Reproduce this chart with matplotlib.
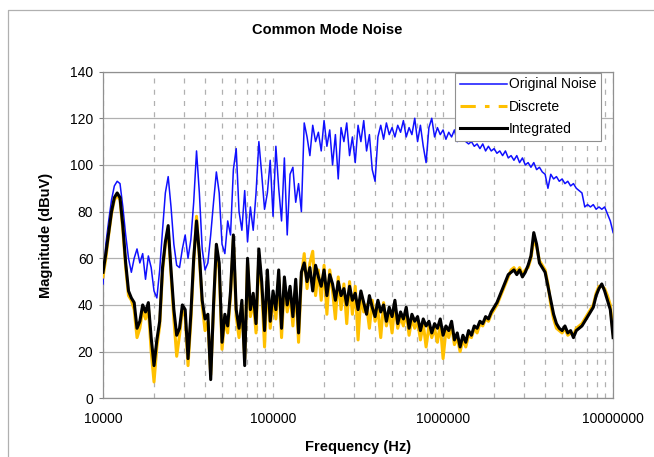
import numpy as np
import matplotlib
matplotlib.use("Agg")
import matplotlib.pyplot as plt
from matplotlib.lines import Line2D
from matplotlib.ticker import LogLocator, NullFormatter

plt.rcParams['font.family'] = ['Liberation Sans', 'DejaVu Sans']

# sweep: 60 points per decade, 10 kHz .. 10 MHz
freq_hz = np.logspace(4, 7, 181)

original_noise = [
    49, 66, 76, 85, 91, 93, 92, 82, 70, 60,
    54, 60, 64, 58, 62, 51, 61, 56, 46, 43,
    55, 72, 88, 95, 82, 66, 57, 56, 64, 70,
    60, 68, 84, 106, 88, 64, 55, 58, 70, 84,
    97, 88, 66, 62, 76, 70, 98, 107, 80, 72,
    89, 67, 82, 72, 88, 110, 96, 81, 88, 102,
    78, 108, 90, 76, 103, 70, 96, 99, 84, 92,
    80, 118, 112, 104, 117, 110, 114, 106, 119, 108,
    115, 100, 113, 94, 116, 110, 118, 104, 112, 101,
    117, 110, 119, 106, 113, 98, 93, 112, 117, 111,
    118, 113, 116, 112, 117, 114, 119, 112, 116, 113,
    120, 110, 117, 108, 101, 116, 120, 112, 116, 113,
    115, 111, 114, 112, 115, 110, 113, 111, 110, 109,
    110, 108, 109, 107, 109, 106, 108, 106, 107, 105,
    106, 104, 106, 103, 104, 102, 104, 101, 103, 100,
    101, 99, 101, 98, 99, 97, 96, 90, 96, 94,
    95, 93, 94, 92, 93, 91, 92, 90, 89, 88,
    82, 83, 82, 83, 81, 82, 81, 82, 79, 76,
    71,
]

discrete = [
    52, 60, 70, 79, 85, 87, 85, 72, 56, 44,
    42, 38, 26, 30, 38, 34, 39, 20, 7, 22,
    31, 54, 66, 72, 53, 34, 18, 27, 38, 35,
    14, 33, 58, 78, 60, 40, 29, 33, 10, 38,
    64, 55, 21, 34, 28, 44, 68, 35, 26, 40,
    17, 58, 35, 42, 28, 61, 47, 22, 52, 30,
    43, 34, 52, 26, 49, 37, 45, 31, 48, 24,
    52, 62, 47, 58, 63, 44, 55, 42, 57, 36,
    55, 46, 34, 52, 38, 49, 32, 50, 36, 48,
    25, 44, 37, 40, 30, 42, 33, 38, 26, 41,
    31, 37, 28, 40, 30, 35, 31, 37, 27, 34,
    30, 33, 25, 32, 22, 31, 26, 30, 24, 32,
    17, 29, 26, 31, 23, 26, 20, 25, 22, 27,
    26, 30, 28, 32, 31, 34, 33, 36, 38, 40,
    43, 46, 49, 52, 55, 56, 54, 56, 53, 55,
    56, 60, 68, 65, 59, 57, 55, 49, 40, 34,
    30, 29, 28, 30, 27, 28, 27, 30, 31, 32,
    34, 36, 38, 40, 45, 48, 48, 47, 44, 40,
    28,
]

integrated = [
    54, 62, 71, 80, 86, 88, 86, 74, 58, 46,
    43, 41, 30, 33, 40, 37, 41, 26, 14, 25,
    33, 56, 67, 74, 55, 38, 27, 30, 40, 38,
    17, 36, 60, 76, 62, 42, 34, 36, 8, 40,
    66, 58, 24, 36, 31, 46, 70, 38, 30, 42,
    14, 60, 38, 45, 32, 64, 50, 29, 55, 33,
    46, 38, 55, 30, 52, 40, 48, 35, 51, 28,
    54, 58, 50, 56, 46, 57, 52, 48, 55, 44,
    53, 49, 42, 50, 44, 47, 40, 48, 42, 45,
    38, 46, 41, 36, 44, 39, 35, 42, 37, 40,
    33, 39, 35, 42, 32, 37, 34, 39, 30, 36,
    33, 35, 29, 34, 31, 33, 28, 32, 30, 34,
    27, 31, 29, 33, 25, 28, 22, 27, 24, 29,
    27, 31, 30, 33, 32, 35, 34, 37, 39, 41,
    44, 47, 50, 53, 54, 55, 53, 55, 52, 54,
    57, 61, 71, 66, 58, 56, 54, 48, 42, 36,
    32, 30, 29, 31, 28, 29, 26, 29, 30, 31,
    33, 35, 37, 39, 44, 47, 49, 46, 42, 38,
    26,
]

blue = '#1010ff'
gold = '#ffc000'
grid_grey = '#b0b0b0'

fig = plt.figure(figsize=(6.54, 4.57), dpi=100)
ax = fig.add_axes([0.1575, 0.1285, 0.78, 0.7148])

ax.plot(freq_hz, original_noise, color=blue, lw=1.1, zorder=3)
ax.plot(freq_hz, discrete, color=gold, lw=2.2, zorder=4)
ax.plot(freq_hz, integrated, color='black', lw=2.2, zorder=5)

ax.set_xscale('log')
ax.set_xlim(1e4, 1e7)
ax.set_ylim(0, 140)
ax.set_yticks(range(0, 141, 20))
ax.set_xticks([1e4, 1e5, 1e6, 1e7])
ax.set_xticklabels(['10000', '100000', '1000000', '10000000'])
ax.xaxis.set_minor_locator(LogLocator(base=10, subs=range(2, 10)))
ax.xaxis.set_minor_formatter(NullFormatter())

ax.grid(axis='y', color=grid_grey, lw=0.9, ls='-', zorder=0)
ax.grid(axis='x', which='both', color=grid_grey, lw=0.9, ls=(0, (4, 5)), zorder=0)
ax.set_axisbelow(True)

ax.tick_params(axis='x', which='both', length=0, pad=10, labelsize=10)
ax.tick_params(axis='y', length=3, color='#808080', pad=4, labelsize=10)
for side in ['left', 'bottom', 'top', 'right']:
    ax.spines[side].set_color('#909090')
    ax.spines[side].set_linewidth(0.9)

ax.set_xlabel('Frequency (Hz)', fontsize=10.5, fontweight='bold', labelpad=10)
ax.set_ylabel('Magnitude (dBuV)', fontsize=10.5, fontweight='bold', labelpad=12)
fig.text(0.5, 0.934, 'Common Mode Noise', ha='center', va='center',
         fontsize=10.5, fontweight='bold')

handles = [
    Line2D([], [], color=blue, lw=1.1),
    Line2D([], [], color=gold, lw=2.2, ls=(0, (5, 3, 1.5, 3))),
    Line2D([], [], color='black', lw=2.2),
]
leg = ax.legend(handles, ['Original Noise', 'Discrete', 'Integrated'],
                loc='upper right', bbox_to_anchor=(0.977, 0.997),
                borderaxespad=0, fancybox=False, framealpha=1,
                edgecolor='#909090', fontsize=10, handlelength=3.4,
                handletextpad=0.15, labelspacing=0.6, borderpad=0.35)
leg.get_frame().set_linewidth(0.8)
leg.set_zorder(10)

# outer chart frame (runs off the right and bottom of the image)
fig.add_artist(Line2D([8 / 654, 8 / 654, 1.0], [0.0, 1 - 10 / 457, 1 - 10 / 457],
                      transform=fig.transFigure, color='#b0b0b0', lw=0.9))

fig.savefig('out.png', dpi=100)
